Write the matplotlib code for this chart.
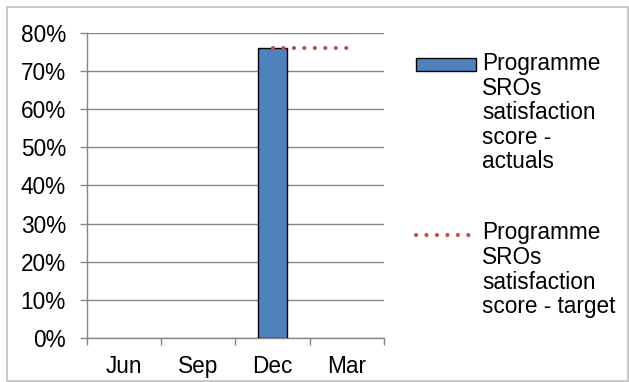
import matplotlib
matplotlib.use('Agg')
import matplotlib.pyplot as plt
import numpy as np
from matplotlib.patches import Rectangle
from matplotlib.ticker import PercentFormatter
from matplotlib.legend_handler import HandlerPatch, HandlerLine2D

plt.rcParams['font.family'] = ['Liberation Sans', 'DejaVu Sans']

# data
quarters = ['Jun', 'Sep', 'Dec', 'Mar']
actuals = [np.nan, np.nan, 0.76, np.nan]
target = [np.nan, np.nan, 0.76, 0.76]
label_actuals = 'Programme\nSROs\nsatisfaction\nscore -\nactuals'
label_target = 'Programme\nSROs\nsatisfaction\nscore - target'

FS = 16.3
LSP = 1.09
GRID = '#868686'


def from_first_bar(legend_handle, orig_handle):
    legend_handle.update_from(orig_handle.patches[0])


class TopPatch(HandlerPatch):
    # put the legend patch next to the first line of a multi-line label
    def __init__(self, shift, **kw):
        super().__init__(**kw)
        self.shift = shift

    def create_artists(self, legend, orig_handle, xdescent, ydescent,
                       width, height, fontsize, trans):
        arts = super().create_artists(legend, orig_handle, xdescent, ydescent,
                                      width, height, fontsize, trans)
        for a in arts:
            a.set_y(a.get_y() + self.shift * fontsize)
        return arts


class TopLine(HandlerLine2D):
    def __init__(self, shift, **kw):
        super().__init__(**kw)
        self.shift = shift

    def create_artists(self, legend, orig_handle, xdescent, ydescent,
                       width, height, fontsize, trans):
        arts = super().create_artists(legend, orig_handle, xdescent, ydescent,
                                      width, height, fontsize, trans)
        for a in arts:
            a.set_ydata(np.asarray(a.get_ydata()) + self.shift * fontsize)
        return arts


fig = plt.figure(figsize=(6.29, 3.82), dpi=100)
ax = fig.add_axes([0.138, 0.1152, 0.4725, 0.7984])

x = np.arange(len(quarters))
bars = ax.bar(x, actuals, width=0.4, color='#4F81BD', edgecolor='black',
              linewidth=1.0, zorder=3, label=label_actuals)
line, = ax.plot(x, target, color='#C0504D', linewidth=3.0,
                linestyle=(0, (0.01, 2.5)), dash_capstyle='round', zorder=4,
                label=label_target)

ax.set_xlim(-0.5, 3.5)
ax.set_ylim(0, 0.8)
ax.set_yticks(np.arange(0, 0.81, 0.1))
ax.yaxis.set_major_formatter(PercentFormatter(1.0, decimals=0))
ax.set_xticks(x)
ax.set_xticklabels(quarters)
ax.set_xticks(np.arange(-0.5, 3.6, 1), minor=True)
ax.tick_params(axis='x', which='major', length=0, pad=12.5, labelsize=FS)
ax.tick_params(axis='x', which='minor', length=5, color=GRID, width=1)
ax.tick_params(axis='y', length=5, color=GRID, width=1, labelsize=FS, pad=10)
ax.grid(axis='y', color=GRID, linewidth=1, zorder=0)
for s in ['top', 'right']:
    ax.spines[s].set_visible(False)
for s in ['left', 'bottom']:
    ax.spines[s].set_color(GRID)
    ax.spines[s].set_linewidth(1)

leg = ax.legend(handles=[bars, line], loc='upper left',
                bbox_to_anchor=(0.6614, 0.864), bbox_transform=fig.transFigure,
                frameon=False, fontsize=FS, handlelength=2.65,
                handleheight=0.52, handletextpad=0.27, labelspacing=2.12,
                borderaxespad=0, borderpad=0,
                handler_map={bars: TopPatch(2 * LSP, update_func=from_first_bar),
                             line: TopLine(1.5 * LSP)})
for t in leg.get_texts():
    t.set_linespacing(LSP)

# light grey frame round the whole chart
fig.patches.append(Rectangle((7 / 629, 0.002), 1 - 8 / 629, 1 - 8 / 382,
                             transform=fig.transFigure, fill=False,
                             edgecolor='#BFBFBF', linewidth=1.2))

fig.savefig('out.png', dpi=100)
